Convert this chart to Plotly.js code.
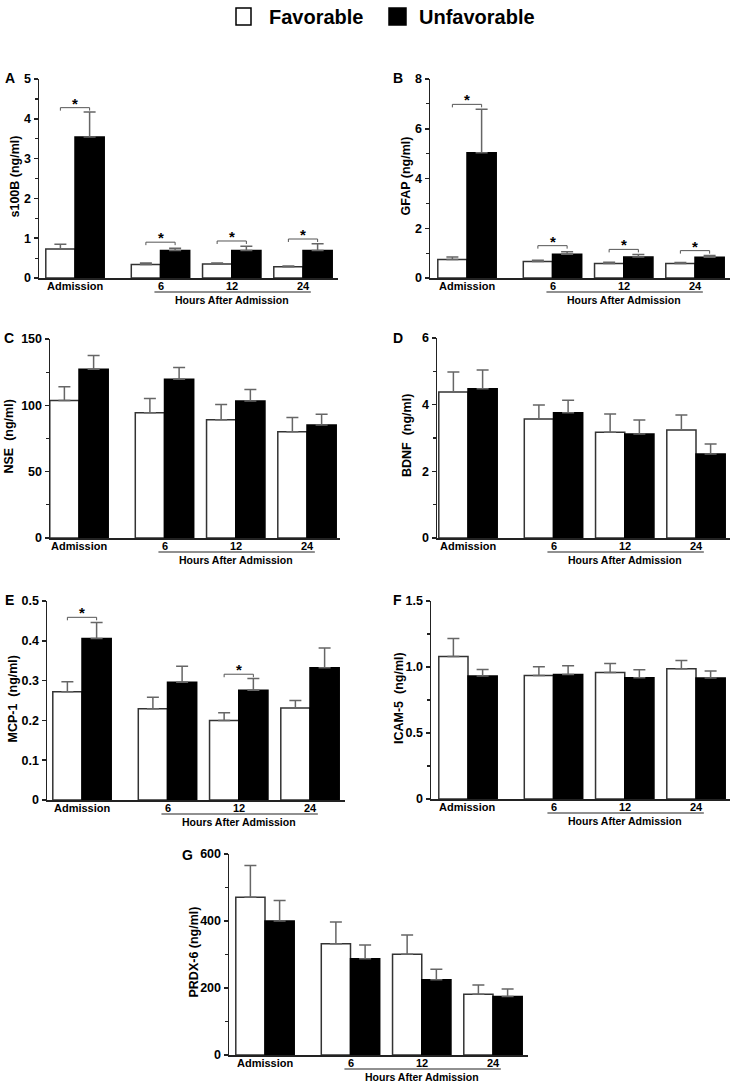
<!DOCTYPE html>
<html><head><meta charset="utf-8">
<script src="https://cdn.plot.ly/plotly-3.0.1.min.js"></script>
<style>html,body{margin:0;padding:0;background:#fff}</style>
</head><body><div id="chart" style="width:734px;height:1082px"></div>
<script>
// ---------- data ----------
const categories = ['Admission', '6', '12', '24'];
const seriesNames = ['Favorable', 'Unfavorable'];
const xAxisGroupLabel = 'Hours After Admission';

// A: s100B (ng/ml)
const s100bFav = [0.73, 0.34, 0.35, 0.28];
const s100bFavSem = [0.12, 0.035, 0.03, 0.02];
const s100bUnf = [3.54, 0.69, 0.69, 0.69];
const s100bUnfSem = [0.63, 0.06, 0.11, 0.17];
const s100bSigGroups = [0, 1, 2, 3];
const s100bSigY = [4.28, 0.90, 0.93, 0.98];

// B: GFAP (ng/ml)
const gfapFav = [0.74, 0.66, 0.58, 0.58];
const gfapFavSem = [0.10, 0.05, 0.05, 0.04];
const gfapUnf = [5.04, 0.95, 0.84, 0.83];
const gfapUnfSem = [1.74, 0.11, 0.10, 0.07];
const gfapSigGroups = [0, 1, 2, 3];
const gfapSigY = [6.98, 1.30, 1.15, 1.10];

// C: NSE (ng/ml)
const nseFav = [103.7, 94.4, 89.2, 80.1];
const nseFavSem = [10.3, 10.8, 11.5, 10.8];
const nseUnf = [127.2, 119.7, 103.2, 85.1];
const nseUnfSem = [10.3, 8.8, 8.7, 8.1];

// D: BDNF (ng/ml)
const bdnfFav = [4.38, 3.57, 3.17, 3.24];
const bdnfFavSem = [0.60, 0.42, 0.55, 0.45];
const bdnfUnf = [4.48, 3.76, 3.12, 2.52];
const bdnfUnfSem = [0.56, 0.37, 0.42, 0.30];

// E: MCP-1 (ng/ml)
const mcp1Fav = [0.272, 0.229, 0.200, 0.231];
const mcp1FavSem = [0.025, 0.029, 0.019, 0.019];
const mcp1Unf = [0.406, 0.296, 0.276, 0.332];
const mcp1UnfSem = [0.040, 0.040, 0.029, 0.050];
const mcp1SigGroups = [0, 2];
const mcp1SigY = [0.459, 0.316];

// F: ICAM-5 (ng/ml)
const icam5Fav = [1.08, 0.936, 0.959, 0.987];
const icam5FavSem = [0.136, 0.065, 0.068, 0.063];
const icam5Unf = [0.931, 0.944, 0.919, 0.916];
const icam5UnfSem = [0.051, 0.065, 0.060, 0.053];

// G: PRDX-6 (ng/ml)
const prdx6Fav = [471, 332, 301, 181];
const prdx6FavSem = [95, 65, 57, 28];
const prdx6Unf = [400, 287, 225, 175];
const prdx6UnfSem = [61, 41, 31, 22];

// y tick labels
const yTicksF = [0, 0.5, 1, 1.5];
const yTickTextF = ['0', '0.5', '1.0', '1.5'];

// ---------- layout helpers ----------
const W = 734, H = 1082;
const FONT = 'Liberation Sans, Arial, Helvetica, sans-serif';
const PX_PER_UNIT = 71.25;
const BAR_W = 0.41;
const xpos = categories.map((c, i) => i === 0 ? 0 : i + 0.2);

const panels = [
  {letter: 'A', title: 's100B (ng/ml)', fav: s100bFav, favSem: s100bFavSem, unf: s100bUnf, unfSem: s100bUnfSem,
   ymax: 5, dtick: 1, minor: 0.5, sigG: s100bSigGroups, sigY: s100bSigY,
   box: {ax: 39, right: 338, top: 79, bottom: 278, c0: 75}, titleX: 14, letterPos: [10, 78]},
  {letter: 'B', title: 'GFAP (ng/ml)', fav: gfapFav, favSem: gfapFavSem, unf: gfapUnf, unfSem: gfapUnfSem,
   ymax: 8, dtick: 2, minor: 1, sigG: gfapSigGroups, sigY: gfapSigY,
   box: {ax: 430, right: 730, top: 79, bottom: 278, c0: 467}, titleX: 405, letterPos: [398, 78]},
  {letter: 'C', title: 'NSE \u00a0(ng/ml)', fav: nseFav, favSem: nseFavSem, unf: nseUnf, unfSem: nseUnfSem,
   ymax: 150, dtick: 50, minor: 25, sigG: [], sigY: [],
   box: {ax: 50, right: 340, top: 339, bottom: 538, c0: 79}, titleX: 9, letterPos: [9, 338]},
  {letter: 'D', title: 'BDNF \u00a0(ng/ml)', fav: bdnfFav, favSem: bdnfFavSem, unf: bdnfUnf, unfSem: bdnfUnfSem,
   ymax: 6, dtick: 2, minor: 1, sigG: [], sigY: [],
   box: {ax: 437, right: 730, top: 338, bottom: 538, c0: 468}, titleX: 407, letterPos: [398, 338]},
  {letter: 'E', title: 'MCP-1 \u00a0(ng/ml)', fav: mcp1Fav, favSem: mcp1FavSem, unf: mcp1Unf, unfSem: mcp1UnfSem,
   ymax: 0.5, dtick: 0.1, minor: null, sigG: mcp1SigGroups, sigY: mcp1SigY,
   box: {ax: 47, right: 345, top: 601, bottom: 800, c0: 82}, titleX: 12, letterPos: [9, 600]},
  {letter: 'F', title: 'ICAM-5 \u00a0(ng/ml)', fav: icam5Fav, favSem: icam5FavSem, unf: icam5Unf, unfSem: icam5UnfSem,
   ymax: 1.5, dtick: 0.5, minor: 0.25, sigG: [], sigY: [], tickvals: yTicksF, ticktext: yTickTextF,
   box: {ax: 431, right: 730, top: 601, bottom: 799, c0: 468}, titleX: 399, letterPos: [397, 600]},
  {letter: 'G', title: 'PRDX-6 (ng/ml)', fav: prdx6Fav, favSem: prdx6FavSem, unf: prdx6Unf, unfSem: prdx6UnfSem,
   ymax: 600, dtick: 200, minor: 100, sigG: [], sigY: [],
   box: {ax: 229, right: 528, top: 854, bottom: 1055, c0: 265}, titleX: 193, letterPos: [187, 855]}
];

const data = [];
const layout = {
  width: W, height: H,
  margin: {l: 0, r: 0, t: 0, b: 0},
  paper_bgcolor: '#fff', plot_bgcolor: 'rgba(0,0,0,0)',
  font: {family: FONT, color: '#000', weight: 'bold'},
  barmode: 'overlay',
  showlegend: false,
  shapes: [], annotations: []
};

// legend (drawn manually so that the swatches match the reference size)
const legendSwatch = [{x0: 236, x1: 251, fill: '#ffffff'}, {x0: 389, x1: 406, fill: '#000000'}];
const legendTextX = [267, 417];
seriesNames.forEach((name, k) => {
  const sw = legendSwatch[k];
  layout.shapes.push({type: 'rect', xref: 'paper', yref: 'paper',
    x0: sw.x0 / W, x1: sw.x1 / W, y0: 1 - 25 / H, y1: 1 - 8 / H,
    fillcolor: sw.fill, line: {color: '#000', width: 1.5}});
  layout.annotations.push({xref: 'paper', yref: 'paper', x: legendTextX[k] / W, y: 1 - 17 / H,
    text: name, showarrow: false, xanchor: 'left', yanchor: 'middle',
    font: {family: FONT, size: 20, color: '#000', weight: 'bold'}});
});

panels.forEach((p, i) => {
  const s = i === 0 ? '' : String(i + 1);
  const xa = 'x' + s, ya = 'y' + s;
  const b = p.box;
  const xr = [(b.ax - b.c0) / PX_PER_UNIT, (b.right - b.c0) / PX_PER_UNIT];

  const errStyle = {color: '#666', thickness: 1.5, width: 6};
  data.push({
    type: 'bar', name: seriesNames[0], legendgroup: 'fav',
    x: xpos, y: p.fav, width: BAR_W, offset: -BAR_W, xaxis: xa, yaxis: ya,
    marker: {color: '#ffffff', line: {color: '#333', width: 1.5}},
    error_y: Object.assign({type: 'data', symmetric: false, array: p.favSem, arrayminus: p.favSem.map(() => 0)}, errStyle),
    hoverinfo: 'skip'
  });
  data.push({
    type: 'bar', name: seriesNames[1], legendgroup: 'unf',
    x: xpos, y: p.unf, width: BAR_W, offset: 0, xaxis: xa, yaxis: ya,
    marker: {color: '#000000', line: {color: '#000', width: 1.5}},
    error_y: Object.assign({type: 'data', symmetric: false, array: p.unfSem, arrayminus: p.unfSem.map(() => 0)}, errStyle),
    hoverinfo: 'skip'
  });

  layout['xaxis' + s] = {
    domain: [b.ax / W, b.right / W], anchor: ya, range: xr, fixedrange: true,
    showline: true, linecolor: '#222', linewidth: 1.5, ticks: '', showgrid: false, zeroline: false,
    showticklabels: false
  };
  const yax = {
    domain: [1 - b.bottom / H, 1 - b.top / H], anchor: xa, range: [0, p.ymax], fixedrange: true,
    showline: true, linecolor: '#222', linewidth: 1.5, ticks: 'outside', ticklen: 4, tickwidth: 1.5, tickcolor: '#222',
    showgrid: false, zeroline: false, dtick: p.dtick, tick0: 0,
    tickfont: {family: FONT, size: 12.5, color: '#000', weight: 'bold'}
  };
  if (p.tickvals) { yax.tickmode = 'array'; yax.tickvals = p.tickvals; yax.ticktext = p.ticktext; }
  if (p.minor) yax.minor = {dtick: p.minor, tick0: 0, ticks: 'outside', ticklen: 2.5, tickwidth: 1.2, tickcolor: '#222', showgrid: false};
  layout['yaxis' + s] = yax;

  // category labels under the x axis
  categories.forEach((c, k) => {
    layout.annotations.push({xref: xa, yref: 'paper', x: xpos[k], y: 1 - (b.bottom + 8) / H,
      text: c, showarrow: false, xanchor: 'center', yanchor: 'middle',
      font: {family: FONT, size: 11, color: '#000', weight: 'bold'}});
  });

  // significance brackets and stars
  const t = p.ymax * 0.015;
  p.sigG.forEach((g, k) => {
    const x1 = xpos[g] - BAR_W / 2, x2 = xpos[g] + BAR_W / 2, y = p.sigY[k];
    layout.shapes.push({type: 'path', xref: xa, yref: ya,
      path: `M ${x1},${y - t} L ${x1},${y} L ${x2},${y} L ${x2},${y - t}`,
      line: {color: '#555', width: 1}});
    layout.annotations.push({xref: xa, yref: ya, x: xpos[g], y: y, text: '*', showarrow: false,
      yanchor: 'bottom', yshift: -6, font: {family: FONT, size: 15, color: '#000', weight: 'bold'}});
  });

  // "Hours After Admission" group line + label
  const lineY = 1 - (b.bottom + 14) / H;
  layout.shapes.push({type: 'line', xref: xa, yref: 'paper',
    x0: xpos[1] - 0.085, x1: xpos[3] + 0.11, y0: lineY, y1: lineY, line: {color: '#222', width: 1.2}});
  layout.annotations.push({xref: xa, yref: 'paper', x: xpos[2], y: 1 - (b.bottom + 21.5) / H,
    text: xAxisGroupLabel, showarrow: false, xanchor: 'center', yanchor: 'middle',
    font: {family: FONT, size: 10.5, color: '#000', weight: 'bold'}});

  // y-axis title
  layout.annotations.push({xref: 'paper', yref: 'paper', x: p.titleX / W, y: 1 - ((b.top + b.bottom) / 2 - 2) / H,
    text: p.title, textangle: -90, showarrow: false, xanchor: 'center', yanchor: 'middle',
    font: {family: FONT, size: 12.5, color: '#000', weight: 'bold'}});

  // panel letter
  layout.annotations.push({xref: 'paper', yref: 'paper', x: p.letterPos[0] / W, y: 1 - p.letterPos[1] / H,
    text: p.letter, showarrow: false, xanchor: 'center', yanchor: 'middle',
    font: {family: FONT, size: 14, color: '#000', weight: 'bold'}});
});

Plotly.newPlot('chart', data, layout, {staticPlot: true, displayModeBar: false});
</script>
</body></html>
